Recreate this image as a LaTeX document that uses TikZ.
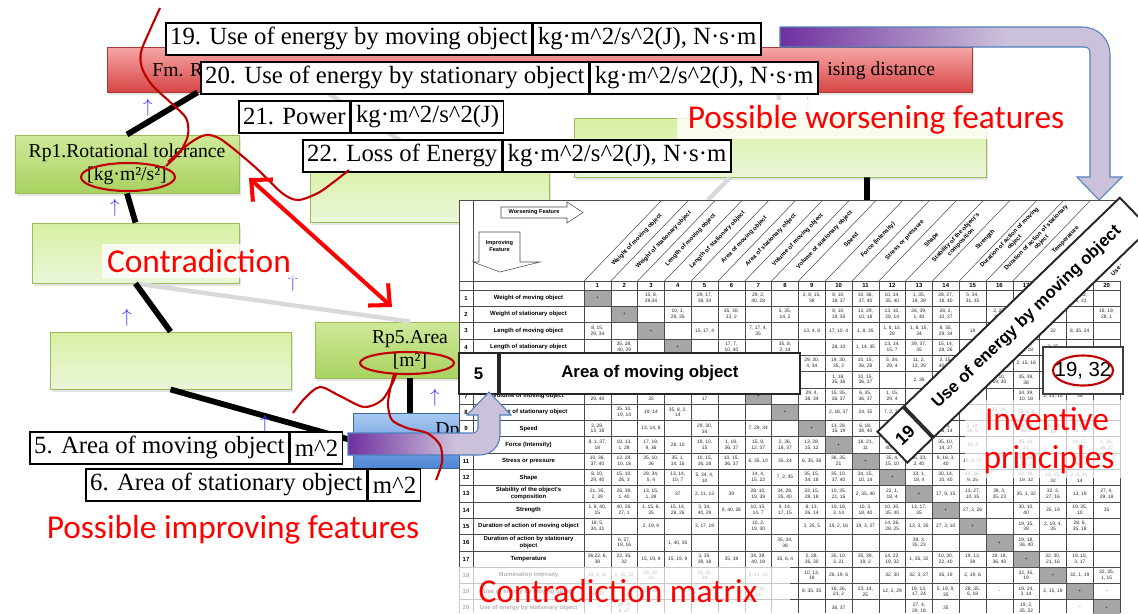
\documentclass[tikz,border=0pt]{standalone}
\usepackage{fontspec}
\setmainfont{Liberation Serif}
\newfontfamily\calfont{Carlito}
\newfontfamily\arialfont{Liberation Sans}
\usetikzlibrary{positioning,calc,arrows.meta,shadows}

\definecolor{fmtop}{HTML}{F7A7A7}
\definecolor{fmbot}{HTML}{D64545}
\definecolor{rptop}{HTML}{CFE99A}
\definecolor{rpbot}{HTML}{A9D260}
\definecolor{patop}{HTML}{D8F0A2}
\definecolor{pabot}{HTML}{EBF6DA}
\definecolor{rpline}{HTML}{9BBB59}
\definecolor{dptop}{HTML}{A9C9F2}
\definecolor{dpbot}{HTML}{4F86D6}
\definecolor{pdark}{HTML}{7030A0}
\definecolor{plight}{HTML}{CCC1DA}
\definecolor{pline}{HTML}{4F81BD}
\definecolor{markred}{HTML}{C00000}
\definecolor{diaggray}{HTML}{A6A6A6}

\pgfdeclarehorizontalshading{purplefade}{100bp}{color(0bp)=(pdark); color(25bp)=(pdark); color(58bp)=(plight); color(100bp)=(plight)}

\begin{document}
\begin{tikzpicture}[x=0.02cm, y=-0.02cm,
    lbl/.style={rectangle, draw, line width=0.9pt, fill=white, font=\fontsize{14.1}{16}\selectfont, inner xsep=2.5pt, inner ysep=0pt, minimum height=0.64cm},
    fmbox/.style={rectangle, draw=fmbot!80!black, line width=0.4pt, top color=fmtop, bottom color=fmbot, drop shadow={opacity=0.2, shadow xshift=1pt, shadow yshift=-1.5pt}},
    rpbox/.style={rectangle, draw=rpline, line width=0.5pt, top color=rptop, bottom color=rpbot, align=center, font=\fontsize{11.2}{13}\selectfont, drop shadow={opacity=0.2, shadow xshift=1pt, shadow yshift=-1.5pt}},
    pabox/.style={rpbox, top color=patop, bottom color=pabot},
    dpbox/.style={rectangle, draw=pline!80!black, line width=0.5pt, top color=dptop, bottom color=dpbot},
    boxtext/.style={inner sep=0pt, font=\fontsize{11.2}{13}\selectfont},
    conn/.style={line width=3.3pt},
    softconn/.style={line width=2.5pt, gray!30},
    uparr/.style={inner sep=0pt, text=blue!80, font=\fontsize{11}{12}\selectfont},
    redmark/.style={markred, line width=1.2pt},
    contra/.style={red, line width=2.3pt, {Straight Barb[length=9pt,width=17pt]}-{Straight Barb[length=9pt,width=17pt]}},
    redtext/.style={text=red, font=\calfont\fontsize{19}{21}\selectfont, fill=white, fill opacity=0.8, text opacity=1, inner sep=3pt},
    mline/.style={black!70, line width=0.3pt},
    cellnum/.style={inner sep=0pt, align=center, text=black!85, font=\arialfont\fontsize{2.8}{3.3}\selectfont},
    rowhead/.style={inner sep=0pt, align=center, font=\arialfont\bfseries\fontsize{3.4}{4}\selectfont},
    colhead/.style={rowhead, rotate=46},
    banner/.style={rectangle, draw=black!85, line width=1.1pt, fill=white, font=\arialfont\bfseries\fontsize{9.6}{11}\selectfont, inner sep=0pt},
    fade/.style={fill=white, fill opacity=0.7},
    arrowband/.style={shading=purplefade, draw=pline, line width=0.6pt}
]
    \useasboundingbox (0,0) rectangle (1138,613);
    \fill[white] (0,0) rectangle (1138,613);

    % Function / parameter boxes
    \node[fmbox, minimum width=17.3cm, minimum height=0.9cm] (fm) at (539.5,69.5) {};
    \node[boxtext, anchor=base west] (fmtxt) at (152,76) {Fm. R};
    \node[boxtext, anchor=base west] (fmtxt2) at (827,75) {ising distance};
    \node[pabox, minimum width=8.24cm, minimum height=1.18cm] (pw) at (780,147.5) {};
    \node[pabox, minimum width=4.78cm, minimum height=1.24cm] (pc) at (429.5,191) {};
    \node[rpbox, minimum width=4.48cm, minimum height=1.16cm] (rp1) at (127,164) {Rp1.Rotational tolerance\\{}[kg·m²/s²]};
    \node[pabox, minimum width=4.14cm, minimum height=1.2cm] (pa1) at (135.5,253) {};
    \node[pabox, minimum width=4.82cm, minimum height=1.14cm] (pa2) at (170.5,360.5) {};
    \node[rpbox, minimum width=3.8cm, minimum height=1.12cm] (rp5) at (410,350) {Rp5.Area\\{}[m²]};
    \node[dpbox, minimum width=2.28cm, minimum height=1.1cm] (dp) at (410,440.5) {};
    \node[boxtext, anchor=base west] (dptxt) at (435,435) {Dp};

    % Tree links
    \coordinate (mtop1) at (708,200);
    \coordinate (mtop2) at (867,200);
    \draw[softconn] (pa1.south) -- (rp5.north);
    \draw[softconn] ($(fm.south west)!0.254!(fm.south east)$) -- (pc.north);
    \draw[softconn] ($(fm.south west)!0.776!(fm.south east)$) -- (pw.north);
    \draw[softconn] ($(pw.south west)!0.379!(pw.south east)$) -- (mtop1);
    \draw[conn] ($(fm.south west)!0.105!(fm.south east)$) -- (rp1.north);
    \draw[conn] (rp1.south) -- (pa1.north);
    \draw[conn] (pa1.south) -- (pa2.north);
    \draw[conn] (pa2.south) -- (dp.west);
    \draw[conn] (rp5.south) -- (dp.north);
    \draw[conn] ($(pw.south west)!0.711!(pw.south east)$) -- (mtop2);

    % Small direction marks
    \node[uparr] (u1) at (148,108) {$\uparrow$};
    \node[uparr] (u2) at (115,208) {$\uparrow$};
    \node[uparr] (u3) at (293,283) {$\uparrow$};
    \node[uparr] (u4) at (127,318) {$\uparrow$};
    \node[uparr] (u5) at (435,398) {$\uparrow$};
    \node[uparr] (u6) at (265,424) {$\uparrow$};
    \node[uparr, text=red!35] (d1) at (808,106) {$\downarrow$};

    % Contradiction matrix
    \fill[white] (459,200) rectangle (1122,613);
    \foreach \k in {1,...,20} {
        \fill[diaggray] ({584+(\k-1)*26.8},{290+(\k-1)*16.3}) rectangle ++(26.8,16.3);
        \node[cellnum] at ({584+(\k-0.5)*26.8},{290+(\k-0.5)*16.3}) {+};
        \node[rowhead] at ({584+(\k-0.5)*26.8},285.5) {\k};
    }
    \foreach \rw [evaluate=\rw as \yr using 290+\rw*16.3] in {0,...,20}
        \draw[mline] (459,\yr) -- (1120,\yr);
    \foreach \k [evaluate=\k as \xk using 584+\k*26.8] in {0,...,20}
        \draw[mline] (\xk,281) -- (\xk,613);
    \draw[mline] (459,200) -- (1120,200);
    \draw[mline] (459,281) -- (1120,281);
    \draw[mline] (459,200) -- (459,613);
    \draw[mline] (473,200) -- (473,613);
    \begin{scope}
        \clip (459,200) rectangle (1120,281);
        \foreach \k [evaluate=\k as \xk using 584+\k*26.8] in {0,...,20}
            \draw[mline] (\xk,281) -- ++(78,-81);
        \foreach \cl/\tx in {1/{Weight of moving object}, 2/{Weight of stationary object}, 3/{Length of moving object}, 4/{Length of stationary object}, 5/{Area of moving object}, 6/{Area of stationary object}, 7/{Volume of moving object}, 8/{Volume of stationary object}, 9/{Speed}, 10/{Force (Intensity)}, 11/{Stress or pressure}, 12/{Shape}, 13/{Stability of the object's\\composition}, 14/{Strength}, 15/{Duration of action of moving\\object}, 16/{Duration of action of stationary\\object}, 17/{Temperature}, 18/{Illumination intensity}, 19/{Use of energy by moving object}, 20/{Use of energy by stationary object}}
            \node[colhead] at ({584+(\cl-0.5)*26.8+39.5},240) {\tx};
    \end{scope}
    \foreach \rw/\tx in {1/{Weight of moving object}, 2/{Weight of stationary object}, 3/{Length of moving object}, 4/{Length of stationary object}, 5/{Area of moving object}, 6/{Area of stationary object}, 7/{Volume of moving object}, 8/{Volume of stationary object}, 9/{Speed}, 10/{Force (Intensity)}, 11/{Stress or pressure}, 12/{Shape}, 13/{Stability of  the object's\\composition}, 14/{Strength}, 15/{Duration of action of moving object}, 16/{Duration of action by stationary\\object}, 17/{Temperature}, 18/{Illumination intensity}, 19/{Use of energy by moving object}, 20/{Use of energy by stationary object}} {
        \node[rowhead] at (528.5,{290+(\rw-0.5)*16.3}) {\tx};
        \node[rowhead] at (466,{290+(\rw-0.5)*16.3}) {\rw};
    }
    % header arrows
    \draw[mline, fill=white] (501,207) -- (567,207) -- (567,202) -- (583,212.5) -- (567,223) -- (567,218) -- (501,218) -- cycle;
    \node[rowhead, font=\arialfont\bfseries\fontsize{3.2}{4}\selectfont] (wf) at (534,212.5) {Worsening Feature};
    \draw[mline, fill=white] (479,232) -- (520,232) -- (520,262) -- (540,262) -- (500,272) -- (473,262) -- (479,262) -- cycle;
    \node[rowhead, font=\arialfont\bfseries\fontsize{3.2}{4}\selectfont] (imf) at (499.5,246) {Improving\\Feature};
    % principle numbers
    \foreach \rw/\cl/\vl in {1/3/{15, 8,\\29,34}, 1/5/{29, 17,\\38, 34}, 1/7/{29, 2,\\40, 28}, 1/9/{2, 8, 15,\\38}, 1/10/{8, 10,\\18, 37}, 1/11/{10, 36,\\37, 40}, 1/12/{10, 14,\\35, 40}, 1/13/{1, 35,\\19, 39}, 1/14/{28, 27,\\18, 40}, 1/15/{5, 34,\\31, 35}, 1/17/{6, 29,\\4, 38}, 1/18/{19, 1,\\32}, 1/19/{35, 12,\\34, 31},
        2/4/{10, 1,\\29, 35}, 2/6/{35, 30,\\13, 2}, 2/8/{5, 35,\\14, 2}, 2/10/{8, 10,\\19, 35}, 2/11/{13, 29,\\10, 18}, 2/12/{13, 10,\\29, 14}, 2/13/{26, 39,\\1, 40}, 2/14/{28, 2,\\10, 27}, 2/16/{2, 27,\\19, 6}, 2/17/{28, 19,\\32, 22}, 2/18/{19, 32,\\35}, 2/20/{18, 19,\\28, 1},
        3/1/{8, 15,\\29, 34}, 3/5/{15, 17, 4}, 3/7/{7, 17, 4,\\35}, 3/9/{13, 4, 8}, 3/10/{17, 10, 4}, 3/11/{1, 8, 35}, 3/12/{1, 8, 10,\\29}, 3/13/{1, 8, 15,\\34}, 3/14/{8, 35,\\29, 34}, 3/15/{19}, 3/17/{10, 15,\\19}, 3/18/{32}, 3/19/{8, 35, 24},
        4/2/{35, 28,\\40, 29}, 4/6/{17, 7,\\10, 40}, 4/8/{35, 8,\\2, 14}, 4/10/{28, 10}, 4/11/{1, 14, 35}, 4/12/{13, 14,\\15, 7}, 4/13/{39, 37,\\35}, 4/14/{15, 14,\\28, 26}, 4/16/{1, 40, 35}, 4/17/{3, 35,\\38, 18}, 4/18/{3, 25},
        5/9/{29, 30,\\4, 34}, 5/10/{19, 30,\\35, 2}, 5/11/{10, 15,\\36, 28}, 5/12/{5, 34,\\29, 4}, 5/13/{11, 2,\\13, 39}, 5/14/{3, 15,\\40, 14}, 5/15/{6, 3}, 5/17/{2, 15, 16}, 5/18/{15, 32,\\19, 13}, 5/19/{19, 32},
        6/10/{1, 18,\\35, 36}, 6/11/{10, 15,\\36, 37}, 6/13/{2, 38}, 6/14/{40}, 6/16/{2, 10,\\19, 30}, 6/17/{35, 39,\\38},
        7/1/{2, 26,\\29, 40}, 7/3/{1, 7, 4,\\35}, 7/5/{1, 7, 4,\\17}, 7/9/{29, 4,\\38, 34}, 7/10/{15, 35,\\36, 37}, 7/11/{6, 35,\\36, 37}, 7/12/{1, 15,\\29, 4}, 7/14/{28, 10,\\1, 39}, 7/17/{34, 39,\\10, 18}, 7/18/{2, 13, 10}, 7/19/{35},
        8/2/{35, 10,\\19, 14}, 8/3/{19, 14}, 8/4/{35, 8, 2,\\14}, 8/10/{2, 18, 37}, 8/11/{24, 35}, 8/12/{7, 2, 35}, 8/13/{34, 28,\\35, 40}, 8/14/{9, 14,\\17, 15}, 8/16/{35, 34,\\38}, 8/17/{35, 6, 4},
        9/1/{2, 28,\\13, 38}, 9/3/{13, 14, 8}, 9/5/{29, 30,\\34}, 9/7/{7, 29, 34}, 9/10/{13, 28,\\15, 19}, 9/11/{6, 18,\\38, 40}, 9/12/{35, 15,\\18, 34}, 9/13/{28, 33,\\1, 18}, 9/14/{8, 3,\\26, 14}, 9/15/{3, 19,\\35, 5}, 9/17/{28, 30,\\36, 2}, 9/18/{10, 13,\\19}, 9/19/{8, 15,\\35, 38},
        10/1/{8, 1, 37,\\18}, 10/2/{18, 13,\\1, 28}, 10/3/{17, 19,\\9, 36}, 10/4/{28, 10}, 10/5/{19, 10,\\15}, 10/6/{1, 18,\\36, 37}, 10/7/{15, 9,\\12, 37}, 10/8/{2, 36,\\18, 37}, 10/9/{13, 28,\\15, 12}, 10/11/{18, 21,\\11}, 10/12/{10, 35,\\40, 34}, 10/13/{35, 10,\\21}, 10/14/{35, 10,\\14, 27}, 10/15/{19, 2}, 10/17/{35, 10,\\21}, 10/19/{19, 17,\\10}, 10/20/{1, 16,\\36, 37},
        11/1/{10, 36,\\37, 40}, 11/2/{13, 29,\\10, 18}, 11/3/{35, 10,\\36}, 11/4/{35, 1,\\14, 16}, 11/5/{10, 15,\\36, 28}, 11/6/{10, 15,\\36, 37}, 11/7/{6, 35, 10}, 11/8/{35, 24}, 11/9/{6, 35, 36}, 11/10/{36, 35,\\21}, 11/12/{35, 4,\\15, 10}, 11/13/{35, 33,\\2, 40}, 11/14/{9, 18, 3,\\40}, 11/15/{19, 3, 27}, 11/17/{35, 39,\\19, 2}, 11/19/{14, 24,\\10, 37},
        12/1/{8, 10,\\29, 40}, 12/2/{15, 10,\\26, 3}, 12/3/{29, 34,\\5, 4}, 12/4/{13, 14,\\10, 7}, 12/5/{5, 34, 4,\\10}, 12/7/{14, 4,\\15, 22}, 12/8/{7, 2, 35}, 12/9/{35, 15,\\34, 18}, 12/10/{35, 10,\\37, 40}, 12/11/{34, 15,\\10, 14}, 12/13/{33, 1,\\18, 4}, 12/14/{30, 14,\\10, 40}, 12/15/{14, 26,\\9, 25}, 12/17/{22, 14,\\19, 32}, 12/18/{13, 15,\\32}, 12/19/{2, 6, 34,\\14},
        13/1/{21, 35,\\2, 39}, 13/2/{26, 39,\\1, 40}, 13/3/{13, 15,\\1, 28}, 13/4/{37}, 13/5/{2, 11, 13}, 13/6/{39}, 13/7/{28, 10,\\19, 39}, 13/8/{34, 28,\\35, 40}, 13/9/{33, 15,\\28, 18}, 13/10/{10, 35,\\21, 16}, 13/11/{2, 35, 40}, 13/12/{22, 1,\\18, 4}, 13/14/{17, 9, 15}, 13/15/{13, 27,\\10, 35}, 13/16/{39, 3,\\35, 23}, 13/17/{35, 1, 32}, 13/18/{32, 3,\\27, 16}, 13/19/{13, 19}, 13/20/{27, 4,\\29, 18},
        14/1/{1, 8, 40,\\15}, 14/2/{40, 26,\\27, 1}, 14/3/{1, 15, 8,\\35}, 14/4/{15, 14,\\28, 26}, 14/5/{3, 34,\\40, 29}, 14/6/{9, 40, 28}, 14/7/{10, 15,\\14, 7}, 14/8/{9, 14,\\17, 15}, 14/9/{8, 13,\\26, 14}, 14/10/{10, 18,\\3, 14}, 14/11/{10, 3,\\18, 40}, 14/12/{10, 30,\\35, 40}, 14/13/{13, 17,\\35}, 14/15/{27, 3, 26}, 14/17/{30, 10,\\40}, 14/18/{35, 19}, 14/19/{19, 35,\\10}, 14/20/{35},
        15/1/{19, 5,\\34, 31}, 15/3/{2, 19, 9}, 15/5/{3, 17, 19}, 15/7/{10, 2,\\19, 30}, 15/9/{3, 35, 5}, 15/10/{19, 2, 16}, 15/11/{19, 3, 27}, 15/12/{14, 26,\\28, 25}, 15/13/{13, 3, 35}, 15/14/{27, 3, 10}, 15/17/{19, 35,\\39}, 15/18/{2, 19, 4,\\35}, 15/19/{28, 6,\\35, 18},
        16/2/{6, 27,\\19, 16}, 16/4/{1, 40, 35}, 16/8/{35, 34,\\38}, 16/13/{39, 3,\\35, 23}, 16/17/{19, 18,\\36, 40},
        17/1/{36,22, 6,\\38}, 17/2/{22, 35,\\32}, 17/3/{15, 19, 9}, 17/4/{15, 19, 9}, 17/5/{3, 35,\\39, 18}, 17/6/{35, 38}, 17/7/{34, 39,\\40, 18}, 17/8/{35, 6, 4}, 17/9/{2, 28,\\36, 30}, 17/10/{35, 10,\\3, 21}, 17/11/{35, 39,\\19, 2}, 17/12/{14, 22,\\19, 32}, 17/13/{1, 35, 32}, 17/14/{10, 30,\\22, 40}, 17/15/{19, 13,\\39}, 17/16/{19, 18,\\36, 40}, 17/18/{32, 30,\\21, 16}, 17/19/{19, 15,\\3, 17},
        18/1/{19, 1, 32}, 18/2/{2, 35, 32}, 18/3/{19, 32,\\16}, 18/5/{19, 32,\\26}, 18/7/{2, 13, 10}, 18/9/{10, 13,\\19}, 18/10/{26, 19, 6}, 18/12/{32, 30}, 18/13/{32, 3, 27}, 18/14/{35, 19}, 18/15/{2, 19, 6}, 18/17/{32, 35,\\19}, 18/19/{32, 1, 19}, 18/20/{32, 35,\\1, 15},
        19/1/{12, 18,\\28, 31}, 19/3/{12, 28}, 19/5/{15, 19,\\25}, 19/7/{35, 13,\\18}, 19/9/{8, 35, 35}, 19/10/{16, 26,\\21, 2}, 19/11/{23, 14,\\25}, 19/12/{12, 2, 29}, 19/13/{19, 13,\\17, 24}, 19/14/{5, 19, 9,\\35}, 19/15/{28, 35,\\6, 18}, 19/16/{-}, 19/17/{19, 24,\\3, 14}, 19/18/{2, 15, 19}, 19/20/{-},
        20/2/{19, 9,\\6, 27}, 20/10/{36, 37}, 20/13/{27, 4,\\29, 18}, 20/14/{35}, 20/17/{19, 2,\\35, 32}, 20/19/{-}}
        \node[cellnum] at ({584+(\cl-0.5)*26.8},{290+(\rw-0.5)*16.3}) {\vl};
    \fill[fade] (459,567) rectangle (790,613);
    \fill[fade] (965,400) rectangle (1122,478);

    % Highlighted row, column and cell
    \node[banner, anchor=north west, minimum width=0.78cm, minimum height=0.82cm] (b5) at (458,352) {5};
    \node[banner, right=0pt of b5, minimum width=6cm, minimum height=0.82cm] (b5t) {Area of moving object};
    \node[banner, rotate=44, minimum width=0.7cm, minimum height=0.86cm, font=\arialfont\bfseries\fontsize{10}{12}\selectfont] (b19) at (905,435) {19};
    \node[banner, rotate=44, right=0pt of b19, minimum width=6cm, minimum height=0.86cm] (b19t) {Use of energy by moving object};
    \node[rectangle, draw=black!75, line width=1.3pt, fill=white, minimum width=1.6cm, minimum height=0.94cm, font=\arialfont\fontsize{11.6}{13}\selectfont] (ip) at (1083,370.5) {19, 32};

    % Feature labels
    \node[lbl, anchor=north west] (l19) at (165,22) {19. Use of energy by moving object};
    \node[lbl, right=0pt of l19] (l19u) {kg·m\textasciicircum 2/s\textasciicircum 2(J), N·s·m};
    \node[lbl, anchor=north west] (l20) at (200,61) {20. Use of energy by stationary object};
    \node[lbl, right=0pt of l20] (l20u) {kg·m\textasciicircum 2/s\textasciicircum 2(J), N·s·m};
    \node[lbl, anchor=north west] (l21) at (238,100) {21. Power};
    \node[lbl, right=0pt of l21] (l21u) {kg·m\textasciicircum 2/s\textasciicircum 2(J)};
    \node[lbl, anchor=north west] (l22) at (302,139) {22. Loss of Energy};
    \node[lbl, right=0pt of l22] (l22u) {kg·m\textasciicircum 2/s\textasciicircum 2(J), N·s·m};
    \node[lbl, anchor=north west] (l5) at (29,431) {5. Area of moving object};
    \node[lbl, right=0pt of l5] (l5u) {m\textasciicircum 2};
    \node[lbl, anchor=north west] (l6) at (85,468) {6. Area of stationary object};
    \node[lbl, right=0pt of l6] (l6u) {m\textasciicircum 2};

    % Purple block arrows
    \shadedraw[arrowband] (780,27) -- (1082,27) .. controls (1098,27) and (1110,39) .. (1110,55)
        -- (1110,177) -- (1122,177) -- (1099,200) -- (1077,177) -- (1090,177) -- (1090,52)
        .. controls (1090,49) and (1088,47) .. (1085,47) -- (780,47) -- cycle;
    \shadedraw[arrowband] (348,433) -- (473,433) .. controls (476,433) and (478,431) .. (478,428)
        -- (478,415) -- (467,415) -- (489,392) -- (511,415) -- (500,415) -- (500,435)
        .. controls (500,446) and (491,455) .. (480,455) -- (348,455) -- cycle;

    % Red marks
    \draw[redmark] plot[smooth] coordinates {(160,8) (150,30) (141,52) (142,68) (152,85) (170,102) (186,118) (188,135) (180,152) (166,166)};
    \draw[redmark] plot[smooth] coordinates {(168,162) (190,143) (206,135) (222,140) (255,167) (282,193) (298,200) (318,193) (335,181) (349,170)};
    \draw[redmark] plot[smooth] coordinates {(293,413) (305,398) (320,387) (340,396) (364,407) (382,400) (393,382) (396,374)};
    \draw[redmark] plot[smooth] coordinates {(394,374) (390,390) (388,405) (392,420) (407,428) (427,433) (440,445) (442,462) (436,480)};
    \draw[redmark] (128,177) ellipse [x radius=47, y radius=14];
    \draw[redmark] (407,363) ellipse [x radius=47, y radius=11];
    \draw[redmark] (ip.center) ellipse [x radius=30, y radius=15];
    \coordinate (ca) at (249,178);
    \coordinate (cb) at (392,307);
    \draw[contra] (ca) -- (cb);

    % Captions
    \node[redtext, anchor=base] (contra) at (199,272) {Contradiction};
    \node[redtext, anchor=base, inner xsep=6pt] (worse) at (876,128) {Possible worsening features};
    \node[redtext, fill=none, anchor=base] (impr) at (233,538) {Possible improving features};
    \node[redtext, fill=none, anchor=base] (cmat) at (618,602) {Contradiction matrix};
    \node[redtext, fill=none, anchor=base] (inv) at (1047,430) {Inventive};
    \node[redtext, fill=none, anchor=base] (prin) at (1049,468) {principles};
\end{tikzpicture}
\end{document}
